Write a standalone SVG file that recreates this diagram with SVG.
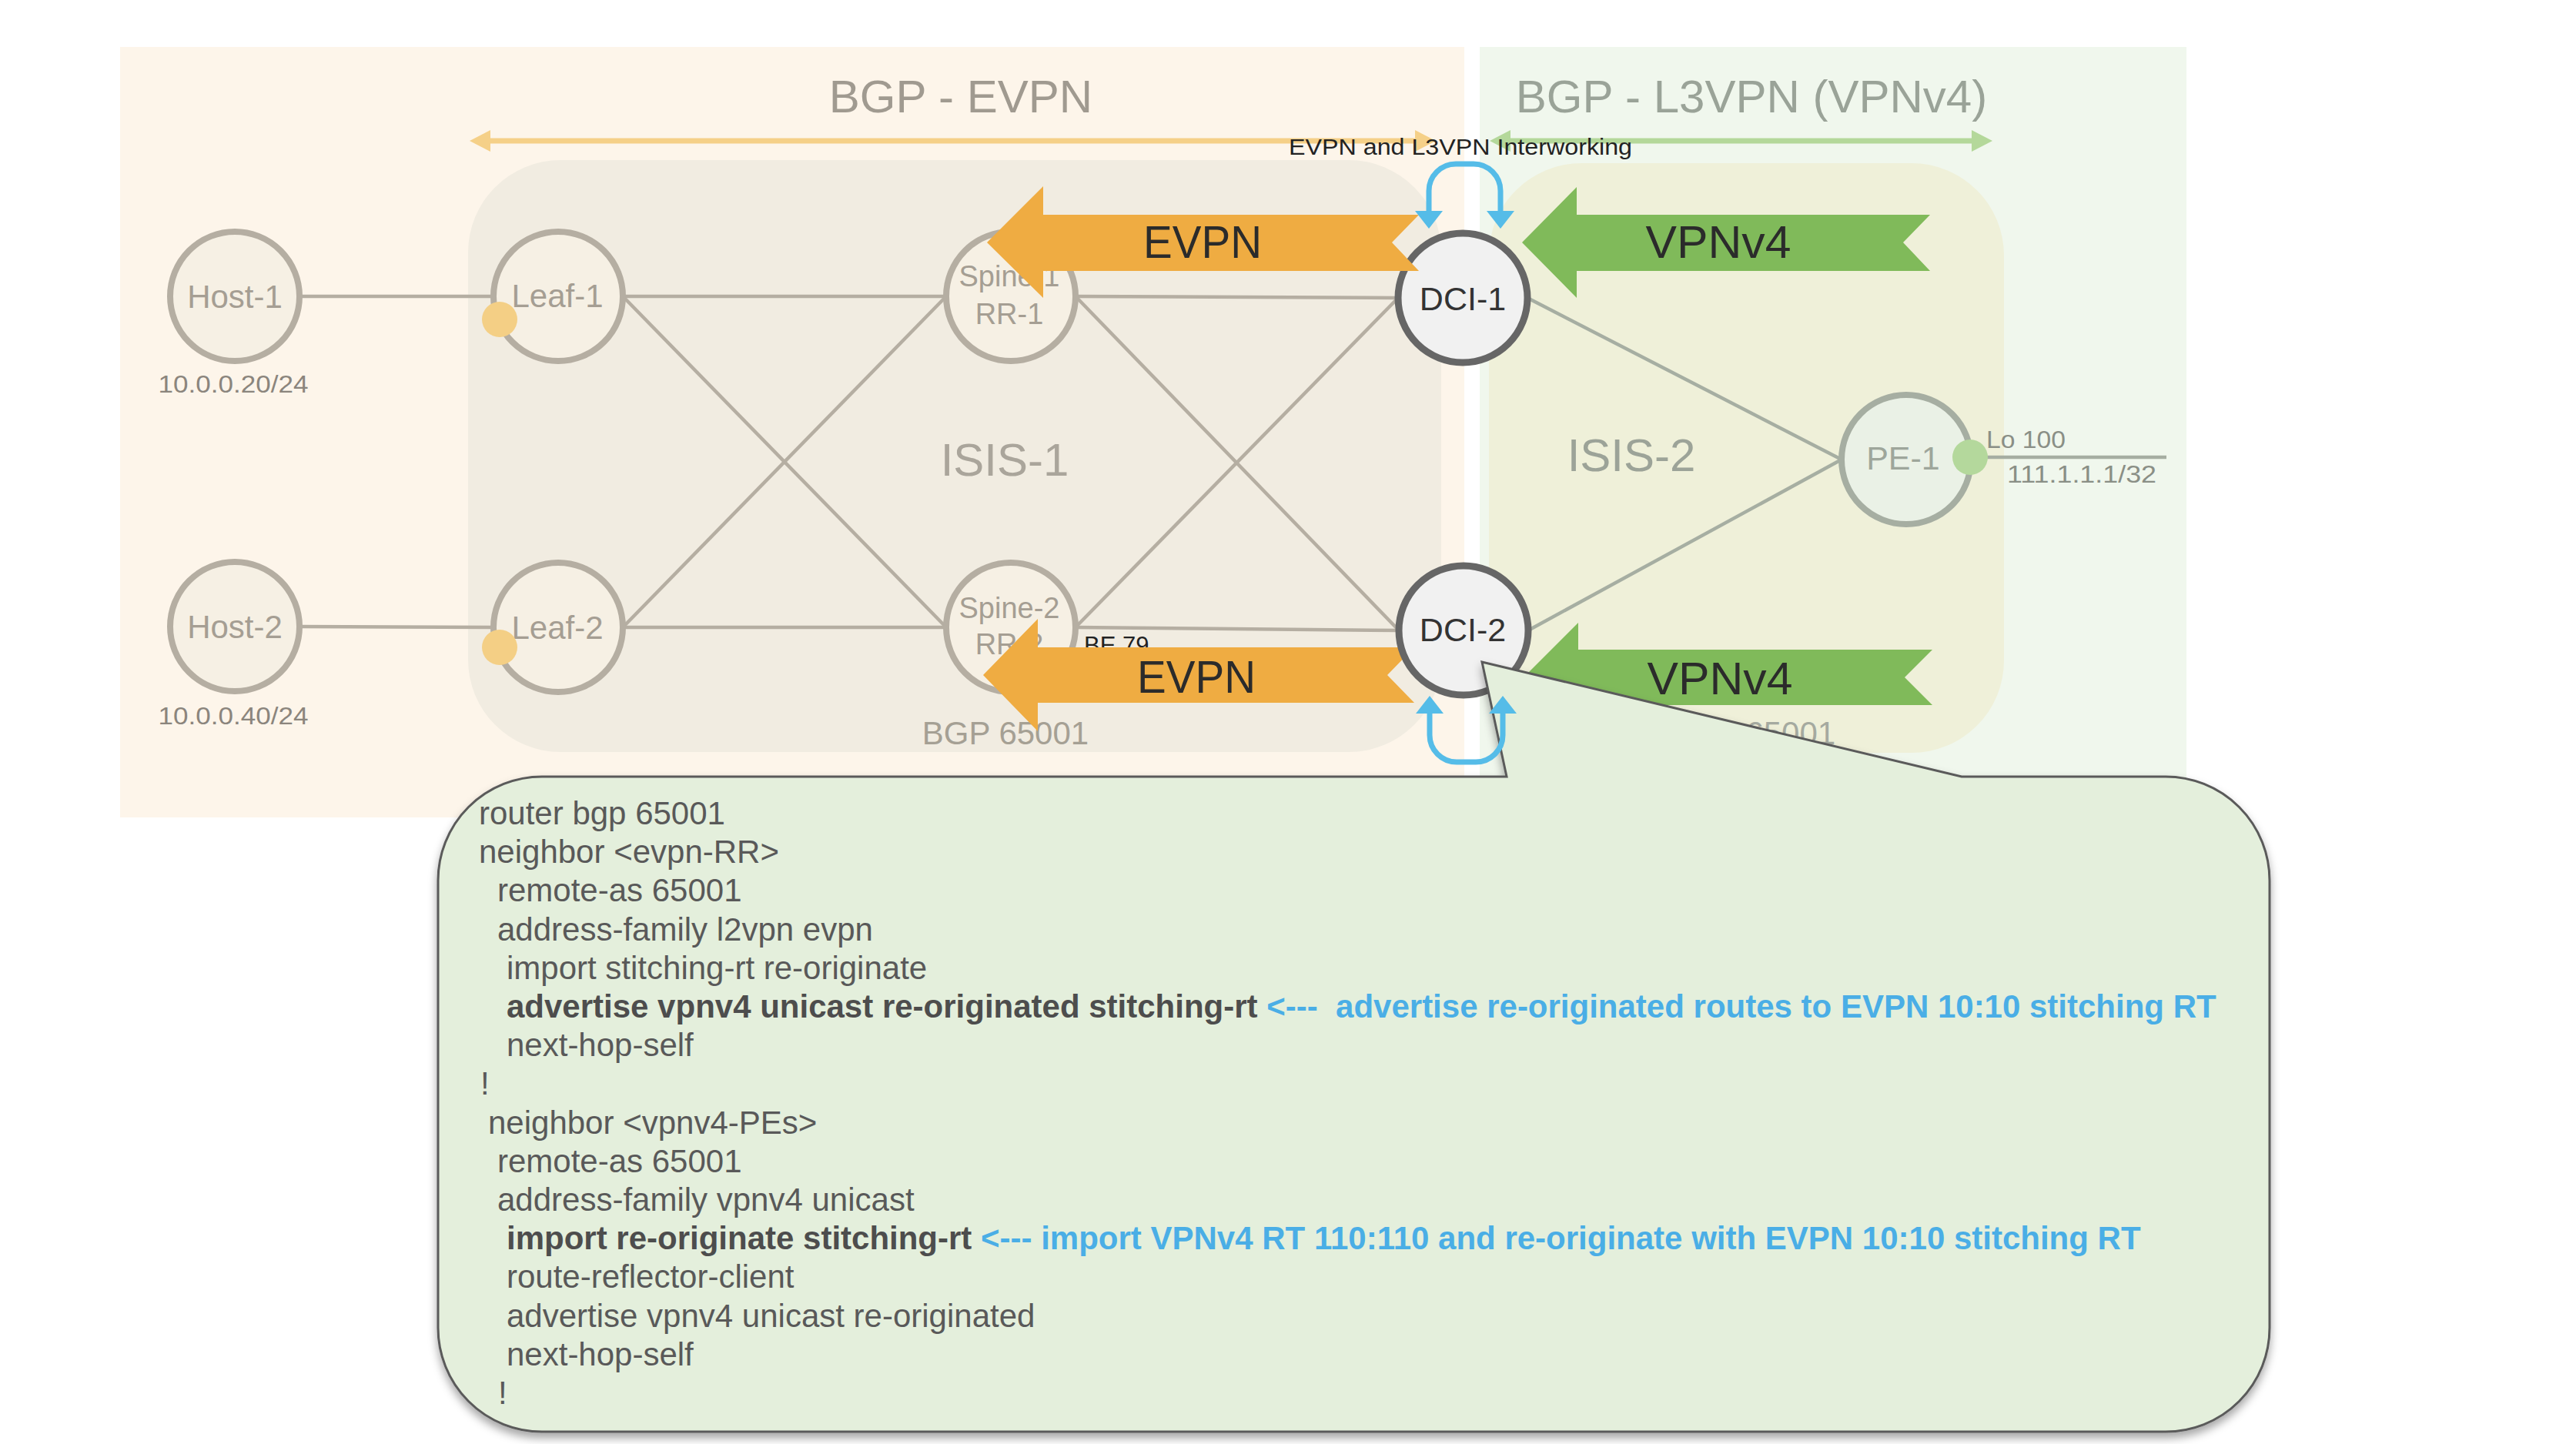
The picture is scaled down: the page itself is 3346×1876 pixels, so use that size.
<svg xmlns="http://www.w3.org/2000/svg" width="3346" height="1876" viewBox="0 0 3346 1876">
<defs>
<style>
text{font-family:"Liberation Sans",Arial,sans-serif}
.tan{fill:#f6f0e4;stroke:#b5aea2;stroke-width:8}
.dci{fill:#f1f1f1;stroke:#666666;stroke-width:9}
.pe{fill:#eaf1e6;stroke:#a6aea2;stroke-width:8}
.nl{font-size:42px;fill:#a59e93;text-anchor:middle}
.sl{font-size:38px;fill:#a59e93;text-anchor:middle}
.dl{font-size:43px;fill:#333333;text-anchor:middle}
.ln1{stroke:#b5aea2;stroke-width:4.5;fill:none}
.ln2{stroke:#a6aea2;stroke-width:4.5;fill:none}
.evpn{fill:#efac42}
.vpn{fill:#80ba5a}
.at{font-size:60px;fill:#2b2b2b;text-anchor:middle}
.loop{fill:none;stroke:#55bce8;stroke-width:7}
.lh{fill:#55bce8}
.code{font-size:42px;fill:#595959}
.b{font-weight:bold;fill:#4d4d4d}
.blue{font-weight:bold;fill:#4aaee6}
</style>
<filter id="shadow" x="-5%" y="-5%" width="110%" height="115%">
<feDropShadow dx="0" dy="7" stdDeviation="6" flood-color="#000000" flood-opacity="0.35"/>
</filter>
</defs>
<rect width="3346" height="1876" fill="#ffffff"/>
<g id="backgrounds">
<rect x="156" y="61" width="1746" height="1001" fill="#fdf5ea"/>
<rect x="1922" y="61" width="918" height="1001" fill="#f0f7ed"/>
<rect x="608" y="208" width="1264" height="769" rx="120" ry="120" fill="#f1ece1"/>
<rect x="1934" y="212" width="669" height="766" rx="120" ry="120" fill="#eff0d9"/>
</g>
<g id="titles">
<text x="1248" y="146" font-size="60" fill="#a09a90" text-anchor="middle">BGP - EVPN</text>
<text x="2275" y="146" font-size="60" fill="#9aa398" text-anchor="middle">BGP - L3VPN (VPNv4)</text>
<line x1="630" y1="183" x2="1845" y2="183" stroke="#f5d088" stroke-width="7"/>
<polygon points="610,183 637,169 637,197" fill="#f5d088"/>
<polygon points="1865,183 1838,169 1838,197" fill="#f5d088"/>
<line x1="1955" y1="183" x2="2568" y2="183" stroke="#b4d89a" stroke-width="7"/>
<polygon points="1935,183 1962,169 1962,197" fill="#b4d89a"/>
<polygon points="2588,183 2561,169 2561,197" fill="#b4d89a"/>
<text x="1674" y="201" font-size="29" fill="#222222" textLength="446" lengthAdjust="spacingAndGlyphs">EVPN and L3VPN Interworking</text>
<text x="1305" y="618" font-size="60" fill="#aaa59b" text-anchor="middle">ISIS-1</text>
<text x="2119" y="612" font-size="60" fill="#9ca398" text-anchor="middle">ISIS-2</text>
<text x="1306" y="967" font-size="42" fill="#a5a094" text-anchor="middle">BGP 65001</text>
<text x="2276" y="967" font-size="42" fill="#a5aaa0" text-anchor="middle">BGP 65001</text>
</g>
<g id="connectors">
<line class="ln1" x1="389" y1="385" x2="641" y2="385"/>
<line class="ln1" x1="389" y1="814" x2="641" y2="815"/>
<line class="ln1" x1="809" y1="385" x2="1229" y2="385"/>
<line class="ln1" x1="809" y1="815" x2="1229" y2="815"/>
<line class="ln1" x1="809" y1="385" x2="1229" y2="815"/>
<line class="ln1" x1="809" y1="815" x2="1229" y2="385"/>
<line class="ln1" x1="1397" y1="385" x2="1816" y2="387"/>
<line class="ln1" x1="1397" y1="815" x2="1817" y2="819"/>
<line class="ln1" x1="1397" y1="385" x2="1817" y2="819"/>
<line class="ln1" x1="1397" y1="815" x2="1816" y2="387"/>
<line class="ln2" x1="1984" y1="387" x2="2392" y2="597"/>
<line class="ln2" x1="1985" y1="819" x2="2392" y2="597"/>
<line class="ln2" x1="2559" y1="594" x2="2814" y2="594"/>
</g>
<g id="host-1"><circle class="tan" cx="305" cy="385" r="84"/><text class="nl" x="305" y="400">Host-1</text>
<text x="303" y="510" font-size="32" fill="#8b857d" text-anchor="middle" textLength="195" lengthAdjust="spacingAndGlyphs">10.0.0.20/24</text></g>
<g id="host-2"><circle class="tan" cx="305" cy="814" r="84"/><text class="nl" x="305" y="829">Host-2</text>
<text x="303" y="941" font-size="32" fill="#8b857d" text-anchor="middle" textLength="195" lengthAdjust="spacingAndGlyphs">10.0.0.40/24</text></g>
<g id="leaf-1"><circle class="tan" cx="725" cy="385" r="84"/><text class="nl" x="724" y="399">Leaf-1</text><circle cx="649" cy="415" r="23" fill="#f4cf85"/></g>
<g id="leaf-2"><circle class="tan" cx="725" cy="815" r="84"/><text class="nl" x="724" y="830">Leaf-2</text><circle cx="649" cy="841" r="23" fill="#f4cf85"/></g>
<g id="spine-1"><circle class="tan" cx="1313" cy="385" r="84"/><text class="sl" x="1311" y="372">Spine-1</text><text class="sl" x="1311" y="421">RR-1</text></g>
<g id="spine-2"><circle class="tan" cx="1313" cy="815" r="84"/><text class="sl" x="1311" y="803">Spine-2</text><text class="sl" x="1311" y="850">RR-2</text></g>
<g id="dci-1"><circle class="dci" cx="1900" cy="387" r="84"/><text class="dl" x="1900" y="403">DCI-1</text></g>
<g id="pe-1"><circle class="pe" cx="2476" cy="597" r="84"/><text x="2472" y="610" font-size="43" fill="#9ea69b" text-anchor="middle">PE-1</text>
<circle cx="2559" cy="594" r="23" fill="#b4d89c"/>
<text x="2580" y="582" font-size="31" fill="#8a8f86" textLength="103" lengthAdjust="spacingAndGlyphs">Lo 100</text>
<text x="2607" y="627" font-size="32" fill="#8a8f86" textLength="194" lengthAdjust="spacingAndGlyphs">111.1.1.1/32</text></g>
<text x="1408" y="849" font-size="31" fill="#222222">BE 79</text>
<g id="arrows">
<polygon class="evpn" points="1282,315 1355,242 1355,279 1843,279 1808,315 1843,352 1355,352 1355,387"/>
<text class="at" x="1562" y="335" textLength="154" lengthAdjust="spacingAndGlyphs">EVPN</text>
<polygon class="evpn" points="1277,877 1348,804 1348,841 1837,841 1802,877 1837,913 1348,913 1348,950"/>
<text class="at" x="1554" y="900" textLength="154" lengthAdjust="spacingAndGlyphs">EVPN</text>
<polygon class="vpn" points="1977,315 2048,243 2048,279 2507,279 2472,315 2507,352 2048,352 2048,387"/>
<text class="at" x="2232" y="335" textLength="189" lengthAdjust="spacingAndGlyphs">VPNv4</text>
<polygon class="vpn" points="1979,880 2050,809 2050,844 2510,844 2474,880 2510,916 2050,916 2050,951"/>
<text class="at" x="2234" y="902" textLength="189" lengthAdjust="spacingAndGlyphs">VPNv4</text>
</g>
<g id="dci-2"><circle class="dci" cx="1901" cy="819" r="84"/><text class="dl" x="1900" y="833">DCI-2</text></g>
<g id="callout">
<path d="M704,1009 H1957 L1925,860 L2548,1009 H2813 A135,135 0 0 1 2948,1144 V1725 A135,135 0 0 1 2813,1860 H704 A135,135 0 0 1 569,1725 V1144 A135,135 0 0 1 704,1009 Z" fill="#e4efdc" stroke="#5a5a5a" stroke-width="3" filter="url(#shadow)"/>
<text class="code" x="622" y="1071">router bgp 65001</text>
<text class="code" x="622" y="1121">neighbor &lt;evpn-RR&gt;</text>
<text class="code" x="646" y="1171">remote-as 65001</text>
<text class="code" x="646" y="1222">address-family l2vpn evpn</text>
<text class="code" x="658" y="1272">import stitching-rt re-originate</text>
<text class="code" x="658" y="1322" xml:space="preserve"><tspan class="b">advertise vpnv4 unicast re-originated stitching-rt</tspan> <tspan class="blue">&lt;---  advertise re-originated routes to EVPN 10:10 stitching RT</tspan></text>
<text class="code" x="658" y="1372">next-hop-self</text>
<text class="code" x="624" y="1422">!</text>
<text class="code" x="634" y="1473">neighbor &lt;vpnv4-PEs&gt;</text>
<text class="code" x="646" y="1523">remote-as 65001</text>
<text class="code" x="646" y="1573">address-family vpnv4 unicast</text>
<text class="code" x="658" y="1623"><tspan class="b">import re-originate stitching-rt</tspan> <tspan class="blue">&lt;--- import VPNv4 RT 110:110 and re-originate with EVPN 10:10 stitching RT</tspan></text>
<text class="code" x="658" y="1673">route-reflector-client</text>
<text class="code" x="658" y="1724">advertise vpnv4 unicast re-originated</text>
<text class="code" x="658" y="1774">next-hop-self</text>
<text class="code" x="647" y="1824">!</text>
</g>
<g id="interworking-loops">
<path class="loop" d="M1856,276 V248 A35,35 0 0 1 1891,213 H1914 A35,35 0 0 1 1949,248 V276"/>
<polygon class="lh" points="1838,274 1874,274 1856,297"/>
<polygon class="lh" points="1931,274 1967,274 1949,297"/>
<path class="loop" d="M1857,925 V955 A35,35 0 0 0 1892,990 H1917 A35,35 0 0 0 1952,955 V925"/>
<polygon class="lh" points="1839,927 1875,927 1857,904"/>
<polygon class="lh" points="1934,927 1970,927 1952,904"/>
</g>
</svg>
